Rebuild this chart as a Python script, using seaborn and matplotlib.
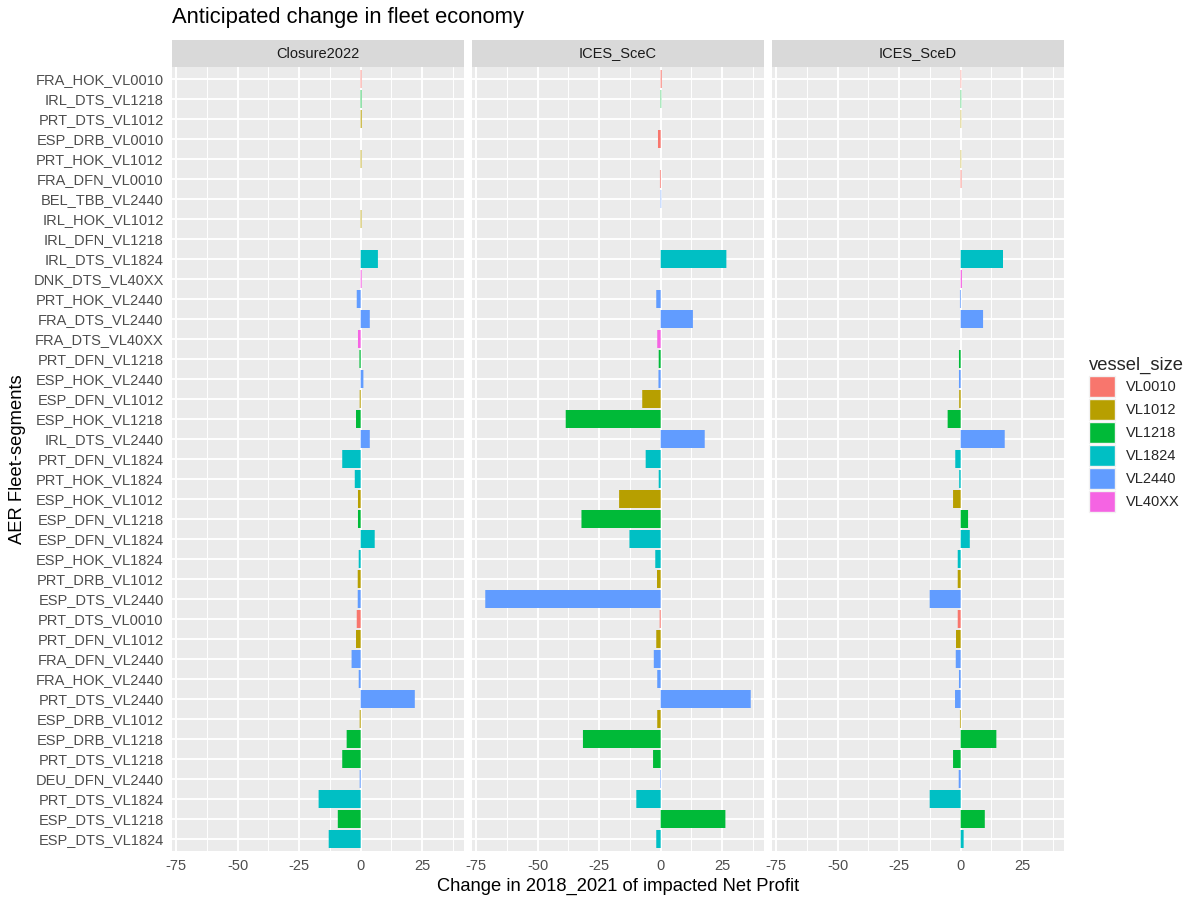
import matplotlib
matplotlib.use("Agg")
import matplotlib.pyplot as plt
from matplotlib.patches import Patch
import numpy as np
import pandas as pd
import seaborn as sns

# ---- data -------------------------------------------------------------
segments = [
    "FRA_HOK_VL0010", "IRL_DTS_VL1218", "PRT_DTS_VL1012", "ESP_DRB_VL0010",
    "PRT_HOK_VL1012", "FRA_DFN_VL0010", "BEL_TBB_VL2440", "IRL_HOK_VL1012",
    "IRL_DFN_VL1218", "IRL_DTS_VL1824", "DNK_DTS_VL40XX", "PRT_HOK_VL2440",
    "FRA_DTS_VL2440", "FRA_DTS_VL40XX", "PRT_DFN_VL1218", "ESP_HOK_VL2440",
    "ESP_DFN_VL1012", "ESP_HOK_VL1218", "IRL_DTS_VL2440", "PRT_DFN_VL1824",
    "PRT_HOK_VL1824", "ESP_HOK_VL1012", "ESP_DFN_VL1218", "ESP_DFN_VL1824",
    "ESP_HOK_VL1824", "PRT_DRB_VL1012", "ESP_DTS_VL2440", "PRT_DTS_VL0010",
    "PRT_DFN_VL1012", "FRA_DFN_VL2440", "FRA_HOK_VL2440", "PRT_DTS_VL2440",
    "ESP_DRB_VL1012", "ESP_DRB_VL1218", "PRT_DTS_VL1218", "DEU_DFN_VL2440",
    "PRT_DTS_VL1824", "ESP_DTS_VL1218", "ESP_DTS_VL1824",
]

scenarios = ["Closure2022", "ICES_SceC", "ICES_SceD"]

closure2022 = [
    0.3, 0.3, 0.4, 0.0, 0.3, 0.0, 0.0, 0.3, 0.0, 7.0,
    0.4, -1.6, 3.7, -1.1, -0.5, 1.1, -0.4, -1.9, 3.7, -7.5,
    -2.4, -1.1, -1.1, 5.7, -0.8, -1.2, -1.2, -1.6, -1.9, -3.7,
    -0.8, 22.0, -0.4, -5.7, -7.5, -0.4, -17.1, -9.3, -13.0,
]

ices_scec = [
    0.4, 0.2, 0.0, -1.1, 0.0, -0.3, 0.2, 0.0, 0.0, 26.7,
    0.0, -1.8, 13.1, -1.4, -0.8, -0.9, -7.5, -38.6, 17.9, -6.1,
    -0.8, -16.9, -32.2, -12.7, -2.2, -1.5, -71.3, -0.4, -1.8, -2.8,
    -1.4, 36.6, -1.4, -31.6, -3.1, -0.2, -9.9, 26.3, -1.8,
]

ices_sced = [
    0.2, 0.2, 0.2, 0.0, 0.2, 0.3, 0.0, 0.0, 0.0, 17.2,
    0.5, -0.3, 9.1, 0.0, -0.7, -0.7, -0.6, -5.3, 17.9, -2.2,
    -0.6, -3.1, 3.0, 3.7, -1.2, -1.2, -12.6, -1.2, -1.9, -2.0,
    -0.7, -2.3, -0.3, 14.5, -3.1, -0.8, -12.6, 9.8, 1.2,
]

vessel_sizes = ["VL0010", "VL1012", "VL1218", "VL1824", "VL2440", "VL40XX"]
size_colors = ["#F8766D", "#B79F00", "#00BA38", "#00BFC4", "#619CFF", "#F564E3"]

x_ticks = [-75, -50, -25, 0, 25]
x_minor = [-62.5, -37.5, -12.5, 12.5, 37.5]

# ---- long table -------------------------------------------------------
frames = []
for scen, vals in zip(scenarios, [closure2022, ices_scec, ices_sced]):
    frames.append(pd.DataFrame({
        "segment": segments,
        "value": vals,
        "scenario": scen,
        "vessel_size": [s.split("_")[-1] for s in segments],
    }))
df = pd.concat(frames, ignore_index=True)
palette = dict(zip(vessel_sizes, size_colors))

# shared x range with 5% padding on each side
lo = min(df["value"].min(), 0)
hi = max(df["value"].max(), 0)
pad = 0.05 * (hi - lo)
xlim = (lo - pad, hi + pad)

# ---- figure -----------------------------------------------------------
sns.set_style("white")
plt.rcParams["font.family"] = ["Liberation Sans", "DejaVu Sans"]
plt.rcParams["axes.unicode_minus"] = False

W, H = 1197, 897
fig = plt.figure(figsize=(W / 100, H / 100), dpi=100)
fig.patch.set_facecolor("white")

panel_left = [172, 472, 772]
panel_w = 292
top, bottom = 67, 851
strip_h = 27

base = 13.2
small = base * 0.8

for i, scen in enumerate(scenarios):
    left = panel_left[i]
    ax = fig.add_axes([left / W, 1 - bottom / H, panel_w / W, (bottom - top) / H])
    sub = df[df["scenario"] == scen]
    sns.barplot(
        data=sub, x="value", y="segment", hue="vessel_size",
        order=segments, hue_order=vessel_sizes, palette=palette,
        dodge=False, width=0.9, orient="y", errorbar=None,
        legend=False, linewidth=0, saturation=1, ax=ax,
    )
    # keep very thin bars visible as partially covered pixels
    for p in ax.patches:
        p.set_snap(False)

    ax.set_facecolor("#EBEBEB")
    ax.set_xlim(*xlim)
    ax.set_ylim(len(segments) - 0.4, -0.6)
    ax.set_axisbelow(True)
    for sp in ax.spines.values():
        sp.set_visible(False)

    ax.set_xticks(x_ticks)
    ax.set_xticklabels([str(t) for t in x_ticks])
    ax.set_xticks(x_minor, minor=True)
    ax.set_yticks(range(len(segments)))
    ax.set_yticklabels(segments)

    ax.grid(True, which="major", axis="both", color="white", linewidth=1.4)
    ax.grid(True, which="minor", axis="x", color="white", linewidth=0.7)
    ax.tick_params(axis="both", which="major", length=4, width=0.8,
                   color="#333333", labelcolor="#4D4D4D",
                   labelsize=small, pad=2)
    ax.tick_params(axis="x", which="minor", length=0)
    if i > 0:
        ax.tick_params(axis="y", labelleft=False)
    ax.set_xlabel("")
    ax.set_ylabel("")

    # facet strip
    sax = fig.add_axes([left / W, 1 - top / H, panel_w / W, strip_h / H])
    sax.set_facecolor("#D9D9D9")
    sax.set_xticks([])
    sax.set_yticks([])
    for sp in sax.spines.values():
        sp.set_visible(False)
    sax.text(0.5, 0.5, scen, ha="center", va="center",
             fontsize=small, color="#1A1A1A", transform=sax.transAxes)

# titles
fig.text(172 / W, 1 - 18 / H, "Anticipated change in fleet economy",
         ha="left", va="center", fontsize=base * 1.2, color="black")
fig.text((172 + 772 + panel_w) / 2 / W, 1 - 886 / H,
         "Change in 2018_2021 of impacted Net Profit",
         ha="center", va="center", fontsize=base, color="black")
fig.text(18 / W, 1 - (top + bottom) / 2 / H, "AER Fleet-segments",
         ha="center", va="center", rotation=90, fontsize=base, color="black")

# legend
handles = [Patch(facecolor=c, edgecolor="#F2F2F2", linewidth=1.0, label=s)
           for s, c in zip(vessel_sizes, size_colors)]
leg = fig.legend(
    handles=handles, title="vessel_size", loc="upper left",
    bbox_to_anchor=(1089 / W, 1 - 357 / H), frameon=False,
    fontsize=small, title_fontsize=base, alignment="left",
    handlelength=1.8, handleheight=1.85, labelspacing=0.12,
    handletextpad=0.75, borderpad=0, borderaxespad=0,
)

fig.savefig("out.png", dpi=100, facecolor="white")
